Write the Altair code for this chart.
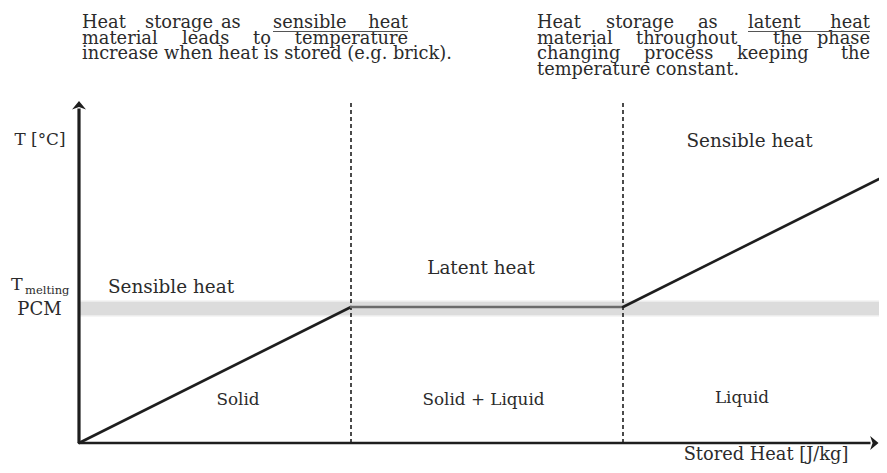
import altair as alt
import pandas as pd

# ---- data (diagram units: stored heat in arbitrary units, temperature in arbitrary units)
stored_heat = [0, 100, 200, 300]
temperature = [0, 50, 50, 100]
segment_names = ["Solid (sensible)", "Solid + Liquid (latent)", "Liquid (sensible)"]
phase_bounds = [100, 200]
t_melting = 50
band_outer = [46.5, 52.4]
band_inner = [47.1, 51.8]

# ---- layout helpers
M = 8  # page margin
PXU = 2.72  # pixels per diagram unit
X0, Y0 = 79 - M, 443 - M  # origin in plot coords
xs = alt.Scale(domain=[0, 300], range=[X0, X0 + 300 * PXU], nice=False, zero=False)
ys = alt.Scale(domain=[0, 130], range=[Y0, Y0 - 130 * PXU], nice=False, zero=False)
INK = "#1e1e1e"
TXT = "#2b2b2b"
FONT = "DejaVu Serif"


def X(f):
    return alt.X(f, type="quantitative", scale=xs, axis=None)


def Y(f):
    return alt.Y(f, type="quantitative", scale=ys, axis=None)


# line data
rows = []
for i, s in enumerate(segment_names):
    rows.append({"Q": stored_heat[i], "T": temperature[i], "seg": s})
    rows.append({"Q": stored_heat[i + 1], "T": temperature[i + 1], "seg": s})
line_df = pd.DataFrame(rows)

band_df = pd.DataFrame({"x0": [0, 0], "x1": [300, 300],
                        "lo": [band_outer[0], band_inner[0]],
                        "hi": [band_outer[1], band_inner[1]],
                        "c": ["outer", "inner"]})

band = alt.Chart(band_df).mark_rect().encode(
    x=X("x0"), x2="x1", y=Y("lo"), y2="hi",
    color=alt.Color("c:N", scale=alt.Scale(domain=["outer", "inner"], range=["#ececec", "#dcdcdc"]), legend=None),
)

line = alt.Chart(line_df).mark_line(strokeWidth=2.6, strokeCap="round").encode(
    x=X("Q"), y=Y("T"),
    stroke=alt.Stroke("seg:N", scale=alt.Scale(domain=segment_names, range=[INK, "#6b6b6b", INK]), legend=None),
)

dash_df = pd.DataFrame({"Q": phase_bounds, "t0": [0, 0], "t1": [125.5, 125.5]})
dashes = alt.Chart(dash_df).mark_rule(strokeDash=[4, 3], strokeWidth=1.6, color=INK).encode(
    x=X("Q"), y=Y("t0"), y2="t1")

yaxis = alt.Chart(pd.DataFrame({"q": [0], "a": [0], "b": [123]})).mark_rule(
    strokeWidth=3.2, color=INK).encode(x=X("q"), y=Y("a"), y2="b")
xaxis = alt.Chart(pd.DataFrame({"t": [0], "a": [0], "b": [291]})).mark_rule(
    strokeWidth=2.6, color=INK).encode(y=Y("t"), x=X("a"), x2="b")

up_arrow = alt.Chart(pd.DataFrame({"q": [0], "t": [124.2]})).mark_point(
    shape="M0,-0.6L1,0.6L0,0.25L-1,0.6Z", filled=True, size=196, color=INK, opacity=1
).encode(x=X("q"), y=Y("t"))
right_arrow = alt.Chart(pd.DataFrame({"q": [292.4], "t": [0]})).mark_point(
    shape="M0.6,0L-0.6,1L-0.25,0L-0.6,-1Z", filled=True, size=196, color=INK, opacity=1
).encode(x=X("q"), y=Y("t"))


def texts(items, size, align="left", color=TXT):
    df = pd.DataFrame([{"x": x - M, "y": y - M, "s": s} for s, x, y in items])
    return alt.Chart(df).mark_text(font=FONT, fontSize=size, align=align, baseline="alphabetic",
                                   color=color).encode(
        x=alt.X("x:Q", scale=None), y=alt.Y("y:Q", scale=None), text="s:N")


B1, B2, B3, B4 = 28, 43.5, 59, 74.5
PS = 17.8
para_left = texts([
    ("Heat", 82, B1), ("storage", 145, B1), ("as", 221, B1), ("sensible", 273, B1),
    ("material", 82, B2), ("leads", 182, B2), ("to", 253, B2),
    ("increase when heat is stored (e.g. brick).", 82, B3),
    ("Heat", 537, B1), ("storage", 606, B1), ("as", 698, B1), ("latent", 748, B1),
    ("material", 537, B2), ("throughout", 636, B2), ("the", 773, B2),
    ("changing", 537, B3), ("process", 644, B3), ("keeping", 737, B3),
    ("temperature constant.", 537, B4),
], PS)
para_right = texts([
    ("heat", 408, B1), ("temperature", 408, B2),
    ("heat", 870, B1), ("phase", 870, B2), ("the", 870, B3),
], PS, align="right")

underl = alt.Chart(pd.DataFrame({"a": [273 - M, 748 - M], "b": [408 - M, 870 - M], "y": [31.5 - M, 31.5 - M]})).mark_rule(
    strokeWidth=1.1, color="#555").encode(x=alt.X("a:Q", scale=None), x2="b:Q", y=alt.Y("y:Q", scale=None))

big_labels = texts([
    ("Sensible heat", 171, 293), ("Latent heat", 481, 274), ("Sensible heat", 749.5, 147),
], 18.4, align="center")
small_labels = texts([
    ("Solid", 238, 405), ("Solid + Liquid", 483.5, 405), ("Liquid", 742, 403),
    ("T [°C]", 40, 145),
], 16.8, align="center")
axis_title = texts([("Stored Heat [J/kg]", 766, 460)], 17.8, align="center")
pcm = texts([("PCM", 39.5, 315)], 18, align="center")
tm = texts([("T", 11, 290)], 17.5)
sub = texts([("melting", 25, 294)], 11.5)

chart = alt.layer(
    band, dashes, line, yaxis, xaxis, up_arrow, right_arrow,
    para_left, para_right, underl, big_labels, small_labels, axis_title, pcm, tm, sub,
).properties(width=871, height=457, padding=0, autosize="none").configure_view(stroke=None)

chart.save("out.html", embed_options={"renderer": "svg", "actions": False})
